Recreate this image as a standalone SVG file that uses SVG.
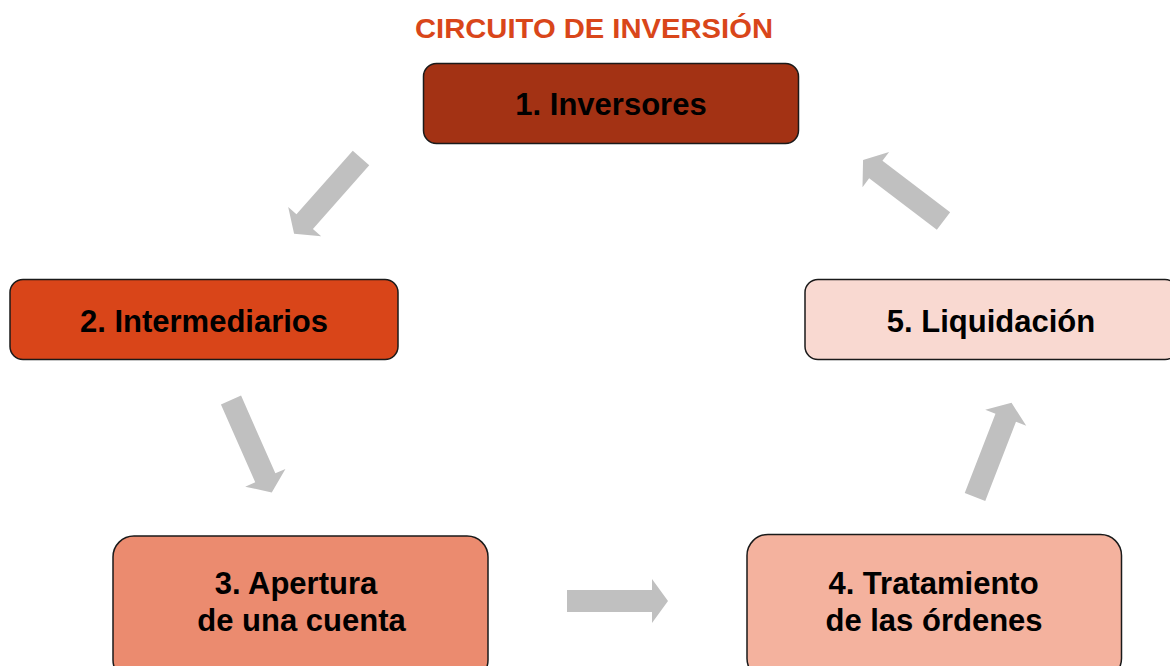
<svg xmlns="http://www.w3.org/2000/svg" width="1170" height="666" viewBox="0 0 1170 666">
<style>
.box{stroke:#1a1a1a;stroke-width:1.5}
.lbl{font-family:"Liberation Sans",Arial,sans-serif;font-weight:bold;font-size:31px;fill:#000;text-anchor:middle}
.title{font-family:"Liberation Sans",Arial,sans-serif;font-weight:bold;font-size:28px;fill:#D9461A;text-anchor:middle}
.arr{fill:#C0C0C0}
</style>
<defs>
<polygon id="arrow" points="0,-11 85,-11 85,-22 101,0 85,22 85,11 0,11"/>
</defs>
<rect width="1170" height="666" fill="#fff"/>
<text class="title" x="594" y="38" textLength="358" lengthAdjust="spacingAndGlyphs">CIRCUITO DE INVERSIÓN</text>
<g id="node1">
<rect class="box" x="423.5" y="63.5" width="375" height="80" rx="13" fill="#A33214"/>
<text class="lbl" x="611" y="115">1. Inversores</text>
</g>
<g id="node2">
<rect class="box" x="10" y="279.5" width="388" height="80" rx="13" fill="#D94519"/>
<text class="lbl" x="204" y="331.5">2. Intermediarios</text>
</g>
<g id="node3">
<rect class="box" x="113" y="536" width="375" height="145" rx="21" fill="#EB8B6F"/>
<text class="lbl" x="296" y="593.5">3. Apertura</text>
<text class="lbl" x="301.5" y="630.5">de una cuenta</text>
</g>
<g id="node4">
<rect class="box" x="747" y="534.5" width="374.5" height="145" rx="21" fill="#F4B29E"/>
<text class="lbl" x="933.5" y="593.5">4. Tratamiento</text>
<text class="lbl" x="934" y="631">de las órdenes</text>
</g>
<g id="node5">
<rect class="box" x="805" y="279.5" width="373" height="80" rx="13" fill="#F9D9D1"/>
<text class="lbl" x="991" y="331.5">5. Liquidación</text>
</g>
<g id="connectors">
<use href="#arrow" class="arr" transform="translate(361,158) rotate(131.5)"/>
<use href="#arrow" class="arr" transform="translate(231,400) rotate(66.2)"/>
<use href="#arrow" class="arr" transform="translate(567,601)"/>
<use href="#arrow" class="arr" transform="translate(975,497) rotate(-68.8)"/>
<use href="#arrow" class="arr" transform="translate(943.5,221) rotate(217.2)"/>
</g>
</svg>
